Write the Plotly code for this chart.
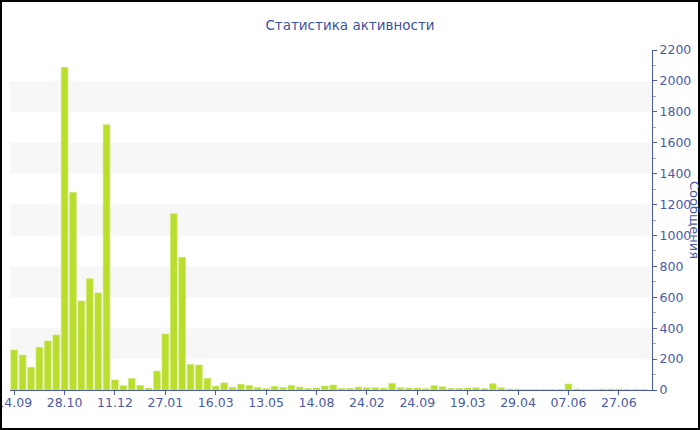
import plotly.graph_objects as go

title_text = "Статистика активности"
y_title = "Сообщения"
values = [259, 226, 147, 276, 317, 356, 2088, 1279, 576, 720, 628, 1717,
          65, 28, 75, 30, 13, 123, 362, 1141, 859, 166, 162, 75,
          25, 46, 18, 37, 30, 17, 11, 24, 17, 30, 19, 11,
          13, 26, 32, 11, 11, 19, 15, 15, 13, 43, 15, 13,
          13, 9, 28, 21, 11, 11, 13, 15, 9, 41, 15, 6,
          6, 4, 4, 4, 4, 4, 39, 6, 4, 4, 6, 6,
          6, 4, 4, 4]
x_idx = list(range(len(values)))
tick_pos = [0, 6, 12, 18, 24, 30, 36, 42, 48, 54, 60, 66, 72]
tick_labels = ["14.09", "28.10", "11.12", "27.01", "16.03", "13.05", "14.08",
               "24.02", "24.09", "19.03", "29.04", "07.06", "27.06"]
bands = [(200, 400), (600, 800), (1000, 1200), (1400, 1600), (1800, 2000)]

W, H = 700, 430
ML, MR, MT, MB = 10, 48, 50, 40
PW, PH = W - ML - MR, H - MT - MB
axis_col = "#4a5aa6"
font_fam = "DejaVu Sans, Verdana, sans-serif"

fig = go.Figure()
fig.add_trace(go.Bar(x=x_idx, y=values, marker=dict(color="#bade2e",
                     line=dict(color="#cde86a", width=0.6)),
                     hoverinfo="y"))

shapes = []
for lo, hi in bands:
    shapes.append(dict(type="rect", xref="paper", yref="y", x0=0, x1=1, y0=lo, y1=hi,
                       fillcolor="#f7f7f7", line=dict(width=0), layer="below"))
# outer border
shapes.append(dict(type="rect", xref="paper", yref="paper",
                   x0=(1 - ML) / PW, x1=(W - 1 - ML) / PW,
                   y0=(H - MB - (H - 1)) / PH, y1=(H - MB - 1) / PH,
                   line=dict(color="black", width=2), fillcolor="rgba(0,0,0,0)"))

fig.update_layout(
    width=W, height=H,
    margin=dict(l=ML, r=MR, t=MT, b=MB),
    paper_bgcolor="white", plot_bgcolor="white",
    showlegend=False,
    bargap=0.2,
    font=dict(family=font_fam, color=axis_col, size=12),
    title=dict(text=title_text, x=0.5, xref="container", xanchor="center",
               y=1 - 25 / H, yanchor="middle", yref="container",
               font=dict(size=13.5, color="#3f51a0", family=font_fam)),
    shapes=shapes,
    xaxis=dict(range=[-0.5, 75.95], tickmode="array", tickvals=tick_pos,
               ticktext=tick_labels, showgrid=False, zeroline=False,
               showline=True, linecolor=axis_col, linewidth=1,
               ticks="outside", ticklen=4, tickcolor=axis_col,
               ticklabeloverflow="allow", ticklabelstandoff=-3,
               tickfont=dict(size=12.5, color=axis_col), automargin=False),
    yaxis=dict(side="right", range=[0, 2200], dtick=200, showgrid=False,
               zeroline=False, showline=True, linecolor=axis_col, linewidth=1,
               ticks="outside", ticklen=4, tickcolor=axis_col,
               ticklabeloverflow="allow",
               minor=dict(dtick=100, ticks="outside", ticklen=3, tickcolor="#9aa3c8"),
               tickfont=dict(size=12.5, color=axis_col), automargin=False),
    annotations=[dict(text=y_title, xref="paper", yref="paper",
                      x=(695 - ML) / PW, y=0.5, xanchor="center", yanchor="middle",
                      showarrow=False, textangle=90,
                      font=dict(size=13, color=axis_col, family=font_fam))],
)

fig.write_html("out.html", config={"displayModeBar": False},
               post_script="document.body.style.margin='0';document.body.style.padding='0';")
